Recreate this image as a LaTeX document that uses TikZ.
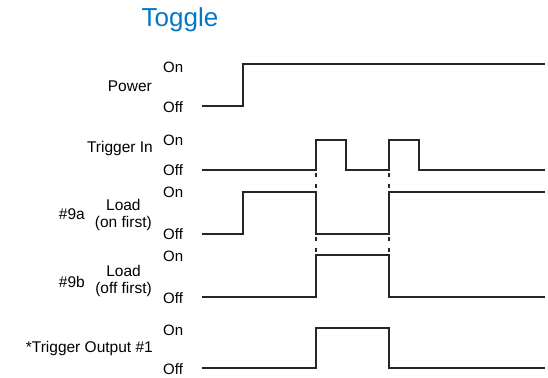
\documentclass[tikz,border=0pt]{standalone}
\usepackage{fontspec}
\setmainfont{Liberation Sans}
\usepackage{xcolor}
\usepackage{tikz}
\usetikzlibrary{positioning}
\definecolor{titleblue}{RGB}{0,120,200}

\begin{document}
\begin{tikzpicture}[x=1pt,y=-1pt,
  level/.style={anchor=west,inner sep=0pt,font=\fontsize{15}{17}\selectfont},
  signame/.style={anchor=east,align=center,inner sep=0pt,font=\fontsize{15.5}{17}\selectfont},
  wave/.style={line width=1.6pt,draw=black!85},
  sync/.style={line width=1.3pt,draw=black!85,dash pattern=on 4pt off 7pt,dash phase=8pt}
]
\useasboundingbox (0,0) rectangle (548,377);

\node[anchor=base,inner sep=0pt,text=titleblue,font=\fontsize{26}{30}\selectfont] (title) at (180,26.7) {Toggle};

% signal names
\node[signame] (power) at (152,86) {Power};
\node[signame] (trigin) at (153,148) {Trigger In};
\node[signame] (loada) at (152,214.5) {Load\\(on first)};
\node[signame] (nra) at (85,214) {\#9a};
\node[signame] (loadb) at (152,281) {Load\\(off first)};
\node[signame] (nrb) at (85,282) {\#9b};
\node[signame] (trigout) at (153,348) {*Trigger Output \#1};

% levels
\node[level] (pwron) at (163,67) {On};
\node[level] (pwroff) at (163,107) {Off};
\node[level] (tion) at (163,140) {On};
\node[level] (tioff) at (163,170) {Off};
\node[level] (laon) at (163,192) {On};
\node[level] (laoff) at (163,234) {Off};
\node[level] (lbon) at (163,256) {On};
\node[level] (lboff) at (163,298) {Off};
\node[level] (toon) at (163,330) {On};
\node[level] (tooff) at (163,369) {Off};

% waveforms
\draw[wave] (202,106) -- (243,106) -- (243,64) -- (545,64);
\draw[wave] (202,170) -- (316,170) -- (316,140) -- (346,140) -- (346,170)
  -- (389,170) -- (389,140) -- (419,140) -- (419,170) -- (545,170);
\draw[wave] (202,234) -- (243,234) -- (243,192) -- (316,192) -- (316,234)
  -- (389,234) -- (389,192) -- (545,192);
\draw[wave] (202,297) -- (316,297) -- (316,255) -- (389,255) -- (389,297) -- (545,297);
\draw[wave] (202,368) -- (316,368) -- (316,328) -- (389,328) -- (389,368) -- (545,368);

% sync marks
\foreach \x in {316,389} {
  \draw[sync] (\x,170) -- (\x,192);
  \draw[sync] (\x,234) -- (\x,255);
}
\end{tikzpicture}
\end{document}
